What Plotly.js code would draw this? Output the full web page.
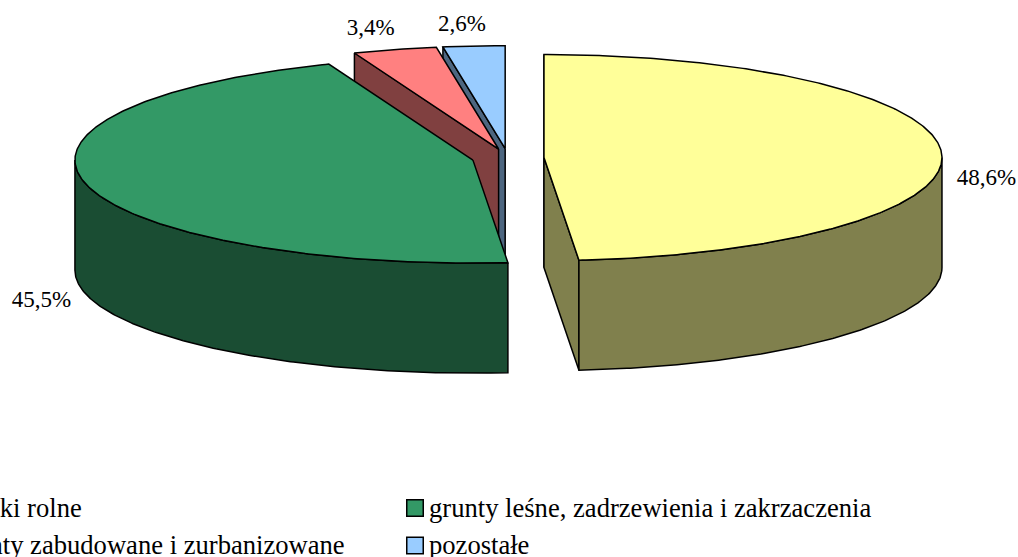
<!DOCTYPE html>
<html>
<head>
<meta charset="utf-8">
<script src="https://cdn.plot.ly/plotly-3.0.1.min.js"></script>
<style>html,body{margin:0;padding:0;background:#fff;overflow:hidden;width:1018px;height:557px}#chart{position:absolute;left:-80px;top:0;width:1098px;height:557px}</style>
</head>
<body>
<div id="chart"></div>
<script>
// Data
const categories = ["użytki rolne", "grunty leśne, zadrzewienia i zakrzaczenia", "grunty zabudowane i zurbanizowane", "pozostałe"];
const shares = [48.6, 45.5, 3.4, 2.6];

// Styles
const topColors = ["#FFFF99", "#339966", "#FF8080", "#99CCFF"];
const sideColors = ["#80804D", "#1A4D33", "#804040", "#4D6680"];
const FONT = "'Liberation Serif','Times New Roman',serif";

// Pie geometry (pixel space of the hidden axes)
const W = 1018, H = 557, BLEED = 80;
const centre = {x: 508, y: 158};
const rx = 398, ry = 103, depth = 110, explode = 36;
const labelOffsets = [[45, 26], [-44, 118], [-24, -20], [-12, -21]];
const legendMarkerX = [-60, 415, -60, 415];
const legendMarkerY = [508, 508, 545.5, 545.5];
const legendTextX = [-46, 429, -46, 429];
const legendTextY = [510, 510, 547, 547];

const rad = d => d * Math.PI / 180;
let cum = 0;
const wedges = shares.map((v, i) => {
  const a0 = cum * 3.6; cum += v;
  const a1 = Math.min(cum * 3.6, 360);   // shares are rounded percentages
  const mid = (a0 + a1) / 2;
  return {i, a0, a1, mid,
    cx: centre.x + explode * Math.sin(rad(mid)),
    cy: centre.y - explode * (ry / rx) * Math.cos(rad(mid))};
});
const rim = (w, a, dz) => [w.cx + rx * Math.sin(rad(a)), w.cy - ry * Math.cos(rad(a)) + (dz || 0)];
function arc(w, a, b, dz) {
  const pts = [], n = Math.max(2, Math.ceil(Math.abs(b - a) * 2));
  for (let k = 0; k <= n; k++) pts.push(rim(w, a + (b - a) * k / n, dz));
  return pts;
}
const traces = [];
function poly(pts, color) {
  traces.push({type: "scatter", mode: "lines", x: pts.map(p => p[0]).concat(pts[0][0]), y: pts.map(p => p[1]).concat(pts[0][1]),
    fill: "toself", fillcolor: color, line: {color: "#000", width: 1.5, shape: "linear"}, hoverinfo: "skip", showlegend: false, cliponaxis: false});
}
function cutFace(w, a, color) {
  const r = rim(w, a), apex = [w.cx, w.cy];
  poly([apex, r, [r[0], r[1] + depth], [apex[0], apex[1] + depth]], color);
}
// back to front: pozostałe, zabudowane, leśne, rolne
[3, 2, 1, 0].forEach(i => {
  const w = wedges[i], side = sideColors[i];
  if (Math.sin(rad(w.a0)) < 0.001 ) cutFace(w, w.a0, side);
  if (Math.sin(rad(w.a1)) > 0.001) cutFace(w, w.a1, side);
  const b0 = Math.max(w.a0, 90), b1 = Math.min(w.a1, 270);
  if (b1 > b0) poly(arc(w, b0, b1, 0).concat(arc(w, b1, b0, depth)), side);
  poly([[w.cx, w.cy]].concat(arc(w, w.a0, w.a1, 0)), topColors[i]);
});

// data labels
traces.push({type: "scatter", mode: "text",
  x: wedges.map((w, i) => rim(w, w.mid)[0] + labelOffsets[i][0]),
  y: wedges.map((w, i) => rim(w, w.mid)[1] + labelOffsets[i][1]),
  text: shares.map(v => v.toFixed(1).replace(".", ",") + "%"),
  textposition: "middle center", textfont: {family: FONT, size: 23, color: "#000"},
  hoverinfo: "skip", showlegend: false, cliponaxis: false});

// legend
traces.push({type: "scatter", mode: "markers",
  x: legendMarkerX, y: legendMarkerY,
  marker: {symbol: "square", size: 16.5, color: topColors, line: {color: "#000", width: 1.5}},
  hoverinfo: "skip", showlegend: false, cliponaxis: false});
traces.push({type: "scatter", mode: "text",
  x: legendTextX, y: legendTextY,
  text: categories, textposition: "middle right",
  textfont: {family: FONT, size: 26.6, color: "#000"},
  hoverinfo: "skip", showlegend: false, cliponaxis: false});

const hidden = {visible: false, fixedrange: true, showgrid: false, zeroline: false};
Plotly.newPlot("chart", traces, {
  width: W + BLEED, height: H, autosize: false, showlegend: false,
  margin: {l: 0, r: 0, t: 0, b: 0},
  paper_bgcolor: "#fff", plot_bgcolor: "#fff",
  xaxis: Object.assign({range: [-BLEED, W]}, hidden),
  yaxis: Object.assign({range: [H, 0]}, hidden),
  font: {family: FONT}
}, {staticPlot: true, displayModeBar: false});
</script>
</body>
</html>
